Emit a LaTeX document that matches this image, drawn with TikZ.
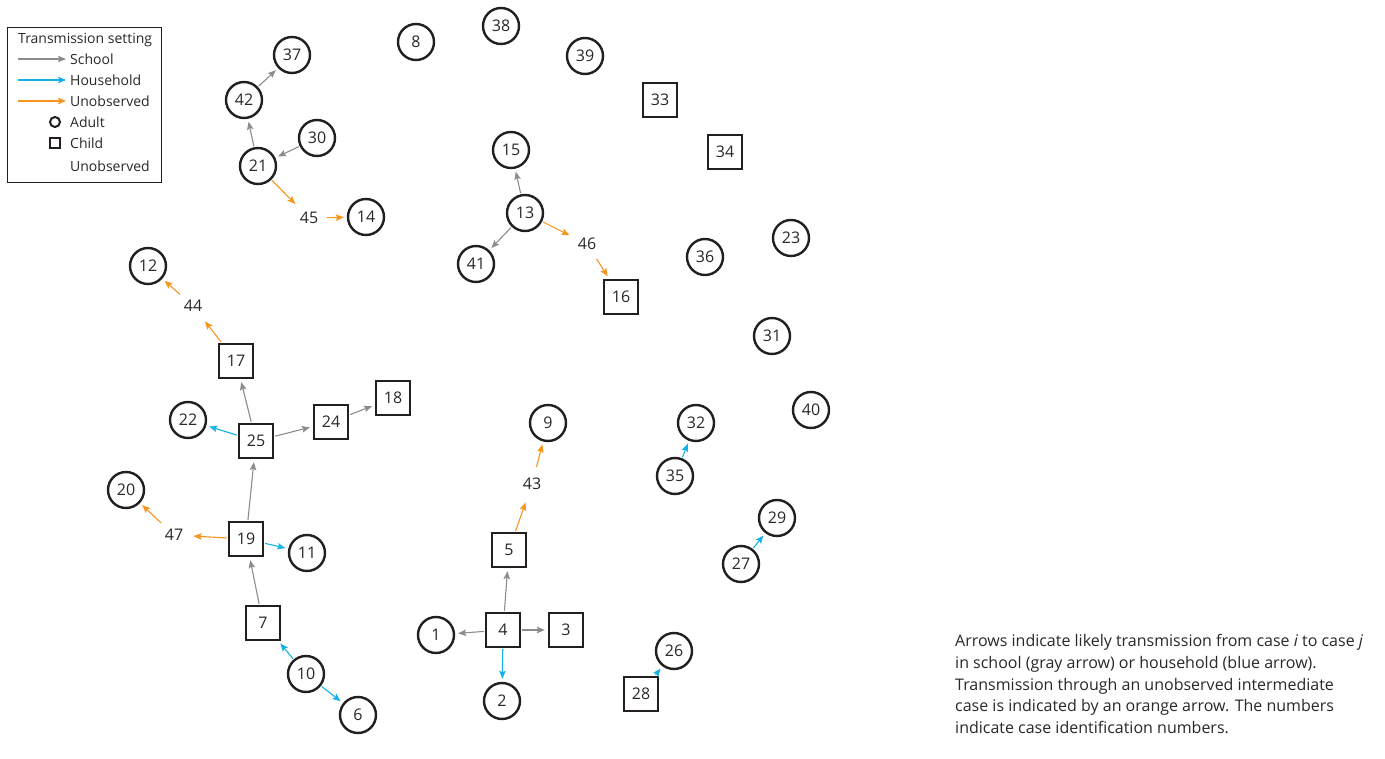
\documentclass[tikz,border=0pt]{standalone}
\usepackage{fontspec}
\setmainfont{Open Sans}
\usepackage{xcolor}
\usetikzlibrary{shapes,arrows.meta,positioning,calc}
\definecolor{schoolgray}{HTML}{8C8C8E}
\definecolor{houseblue}{HTML}{14B1E7}
\definecolor{unobsorange}{HTML}{F7941D}
\definecolor{inkdark}{HTML}{231F20}
\definecolor{textdark}{HTML}{2A2728}

\begin{document}
\begin{tikzpicture}[x=1pt, y=-1pt, >={Stealth[length=8pt, width=6.5pt, inset=1.5pt]}]
        % Styles
        \tikzstyle{adult} = [circle, draw=inkdark, line width=2.4pt, minimum size=36pt, inner sep=0pt, text=textdark, font=\fontsize{16}{19}\selectfont]
        \tikzstyle{child} = [rectangle, draw=inkdark, line width=2.4pt, minimum size=34pt, inner sep=0pt, text=textdark, font=\fontsize{16}{19}\selectfont]
        \tikzstyle{hidden} = [circle, inner sep=4pt, text=textdark, font=\fontsize{16}{19}\selectfont]
        \tikzstyle{school} = [draw=schoolgray, ->, line width=1.1pt, shorten >=3pt, shorten <=1pt]
        \tikzstyle{house} = [draw=houseblue, ->, line width=1.1pt, shorten >=3pt, shorten <=1pt]
        \tikzstyle{unobs} = [draw=unobsorange, ->, line width=1.1pt, shorten >=3pt, shorten <=1pt]
        \tikzstyle{legtext} = [anchor=west, inner sep=0pt, text=textdark, font=\fontsize{14}{16}\selectfont]

        \useasboundingbox (0,0) rectangle (1385,759);

        % Legend
        \node [draw=inkdark, line width=0.8pt, minimum width=154pt, minimum height=155pt, anchor=north west, inner sep=0pt] (legend) at (7,27) {};
        \node [legtext] (legtitle) at (18,40) {Transmission setting};
        \coordinate (sa) at (18,59);  \coordinate (sb) at (66,59);
        \coordinate (ha) at (18,80);  \coordinate (hb) at (66,80);
        \coordinate (ua) at (18,101); \coordinate (ub) at (66,101);
        \draw [school, shorten >=0pt, shorten <=0pt] (sa) -- (sb);
        \draw [house, shorten >=0pt, shorten <=0pt] (ha) -- (hb);
        \draw [unobs, shorten >=0pt, shorten <=0pt] (ua) -- (ub);
        \node [legtext] (legschool) at (70,59) {School};
        \node [legtext] (leghouse) at (70,80) {Household};
        \node [legtext] (legunobs) at (70,101) {Unobserved};
        \node [circle, draw=inkdark, line width=2pt, minimum size=10pt, inner sep=0pt] (legadult) at (55,122) {};
        \node [rectangle, draw=inkdark, line width=2pt, minimum size=10pt, inner sep=0pt] (legchild) at (55,143) {};
        \node [legtext] (legadulttxt) at (70,122) {Adult};
        \node [legtext] (legchildtxt) at (70,143) {Child};
        \node [legtext] (leghiddentxt) at (70,166) {Unobserved};

        % Adults
        \node [adult] (n37) at (292,55) {37};
        \node [adult] (n42) at (244,100) {42};
        \node [adult] (n30) at (317,138) {30};
        \node [adult] (n21) at (258,166) {21};
        \node [adult] (n14) at (366,217) {14};
        \node [adult] (n8) at (416,42) {8};
        \node [adult] (n38) at (501,26) {38};
        \node [adult] (n39) at (585,56) {39};
        \node [adult] (n15) at (511,150) {15};
        \node [adult] (n13) at (525,213) {13};
        \node [adult] (n41) at (476,264) {41};
        \node [adult] (n36) at (705,257) {36};
        \node [adult] (n23) at (791,238) {23};
        \node [adult] (n31) at (772,336) {31};
        \node [adult] (n40) at (811,410) {40};
        \node [adult] (n32) at (696,423) {32};
        \node [adult] (n35) at (675,476) {35};
        \node [adult] (n29) at (777,518) {29};
        \node [adult] (n27) at (741,564) {27};
        \node [adult] (n26) at (674,651) {26};
        \node [adult] (n12) at (148,266) {12};
        \node [adult] (n22) at (188,420) {22};
        \node [adult] (n20) at (126,490) {20};
        \node [adult] (n11) at (307,553) {11};
        \node [adult] (n9) at (548,423) {9};
        \node [adult] (n1) at (436,635) {1};
        \node [adult] (n2) at (502,701) {2};
        \node [adult] (n10) at (306,674) {10};
        \node [adult] (n6) at (358,715) {6};

        % Children
        \node [child] (n33) at (660,100) {33};
        \node [child] (n34) at (725,152) {34};
        \node [child] (n16) at (621,297) {16};
        \node [child] (n17) at (236,361) {17};
        \node [child] (n18) at (393,398) {18};
        \node [child] (n24) at (331,422) {24};
        \node [child] (n25) at (256,441) {25};
        \node [child] (n19) at (246,539) {19};
        \node [child] (n7) at (263,623) {7};
        \node [child] (n5) at (509,550) {5};
        \node [child] (n4) at (503,630) {4};
        \node [child] (n3) at (566,630) {3};
        \node [child] (n28) at (641,694) {28};

        % Unobserved cases
        \node [hidden] (n45) at (309,218) {45};
        \node [hidden] (n46) at (587,244) {46};
        \node [hidden] (n44) at (193,306) {44};
        \node [hidden] (n43) at (532,484) {43};
        \node [hidden] (n47) at (174,535) {47};

        % Edges
        \path [school] (n42) -- (n37);
        \path [school] (n21) -- (n42);
        \path [school] (n30) -- (n21);
        \path [school] (n13) -- (n15);
        \path [school] (n13) -- (n41);
        \path [school] (n25) -- (n17);
        \path [school] (n25) -- (n24);
        \path [school] (n24) -- (n18);
        \path [school] (n19) -- (n25);
        \path [school] (n7) -- (n19);
        \path [school] (n4) -- (n5);
        \path [school] (n4) -- (n1);
        \path [school] (n4) -- (n3);

        \path [house] (n25) -- (n22);
        \path [house] (n19) -- (n11);
        \path [house] (n10) -- (n7);
        \path [house] (n10) -- (n6);
        \path [house] (n4) -- (n2);
        \path [house] (n35) -- (n32);
        \path [house] (n27) -- (n29);
        \path [house] (n28) -- (n26);

        \path [unobs] (n21) -- (n45);
        \path [unobs] (n45) -- (n14);
        \path [unobs] (n13) -- (n46);
        \path [unobs] (n46) -- (n16);
        \path [unobs] (n17) -- (n44);
        \path [unobs] (n44) -- (n12);
        \path [unobs] (n19) -- (n47);
        \path [unobs] (n47) -- (n20);
        \path [unobs] (n5) -- (n43);
        \path [unobs] (n43) -- (n9);

        % Caption
        \node [anchor=north west, inner sep=0pt, align=left, text=textdark, font=\fontsize{16}{21.6}\selectfont] (caption) at (955,634.5) {Arrows indicate likely transmission from case \textit{i} to case \textit{j}\\in school (gray arrow) or household (blue arrow).\\Transmission through an unobserved intermediate\\case is indicated by an orange arrow. The numbers\\indicate case identification numbers.};
    \end{tikzpicture}
\end{document}
